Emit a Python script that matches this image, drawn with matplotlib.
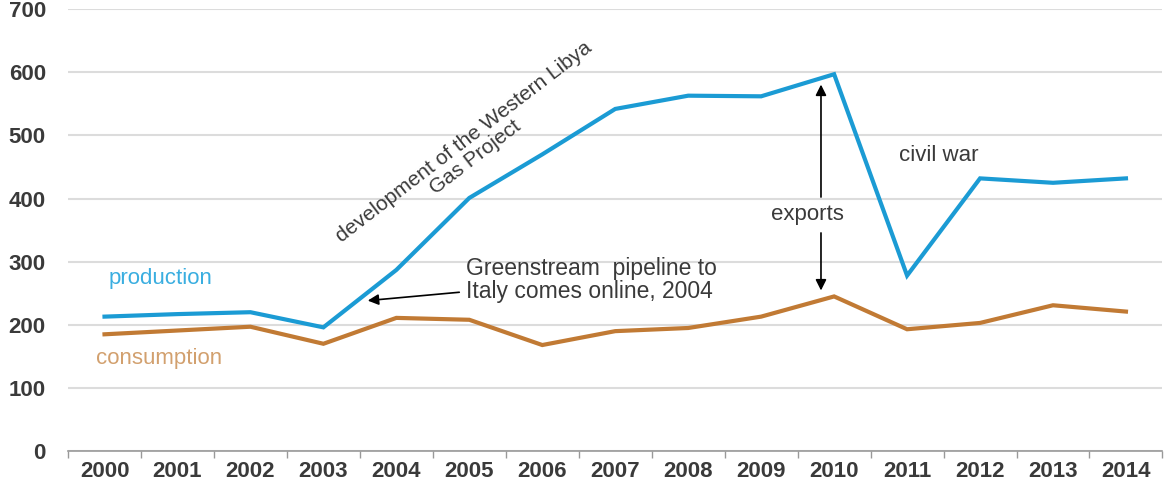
import matplotlib.pyplot as plt
import numpy as np

plt.rcParams['font.family'] = ['Liberation Sans', 'DejaVu Sans']

years = ['2000', '2001', '2002', '2003', '2004', '2005', '2006', '2007',
         '2008', '2009', '2010', '2011', '2012', '2013', '2014']
production = [213, 217, 220, 196, 287, 401, 470, 542, 563, 562, 597, 278, 432, 425, 432]
consumption = [185, 191, 197, 170, 211, 208, 168, 190, 195, 213, 245, 193, 203, 231, 221]

blue = '#1b9bd4'
brown = '#c17a34'
txt = '#3a3a3a'

fig = plt.figure(figsize=(11.73, 4.84), dpi=100)
ax = fig.add_axes([0.058, 0.068, 0.933, 0.913])

x = np.arange(len(years))
ax.plot(x, production, color=blue, lw=3, solid_joinstyle='miter')
ax.plot(x, consumption, color=brown, lw=3, solid_joinstyle='miter')

ax.set_xlim(-0.5, len(years) - 0.5)
ax.set_ylim(0, 700)
ax.set_yticks(range(0, 701, 100))
ax.set_xticks(x)
ax.set_xticklabels(years)
ax.set_xticks(np.arange(-0.5, len(years)), minor=True)
ax.tick_params(axis='x', which='major', length=0, pad=7, labelsize=16, colors=txt)
ax.tick_params(axis='x', which='minor', length=5, width=1, color='#999999')
ax.tick_params(axis='y', length=0, pad=16, labelsize=16, colors=txt)
for lab in ax.get_xticklabels() + ax.get_yticklabels():
    lab.set_fontweight('bold')

ax.grid(axis='y', color='#dcdcdc', lw=1.5)
ax.set_axisbelow(True)
for s in ['top', 'right', 'left']:
    ax.spines[s].set_visible(False)
ax.spines['bottom'].set_color('#999999')
ax.spines['bottom'].set_linewidth(1.2)

# labels on the lines
ax.text(0.05, 274, 'production', color='#3aaee0', fontsize=16, ha='left', va='center')
ax.text(-0.12, 147, 'consumption', color='#d2a06e', fontsize=16, ha='left', va='center')

ax.text(5.0, 478, 'development of the Western Libya\nGas Project', color=txt,
        fontsize=15, ha='center', va='center', rotation=37.5,
        rotation_mode='anchor', linespacing=1.0)

ax.text(4.96, 271, 'Greenstream  pipeline to\nItaly comes online, 2004', color=txt,
        fontsize=16.5, ha='left', va='center', linespacing=1.0)
ax.annotate('', xy=(3.57, 238), xytext=(4.9, 252),
            arrowprops=dict(arrowstyle='-|>', color='black', lw=1.2, mutation_scale=16))

ax.text(9.63, 374, 'exports', color=txt, fontsize=16, ha='center', va='center')
ax.annotate('', xy=(9.82, 585), xytext=(9.82, 398),
            arrowprops=dict(arrowstyle='-|>', color='black', lw=1.2, mutation_scale=16))
ax.annotate('', xy=(9.82, 250), xytext=(9.82, 350),
            arrowprops=dict(arrowstyle='-|>', color='black', lw=1.2, mutation_scale=16))

ax.text(11.44, 469, 'civil war', color=txt, fontsize=16, ha='center', va='center')

fig.savefig('out.png', dpi=100)
